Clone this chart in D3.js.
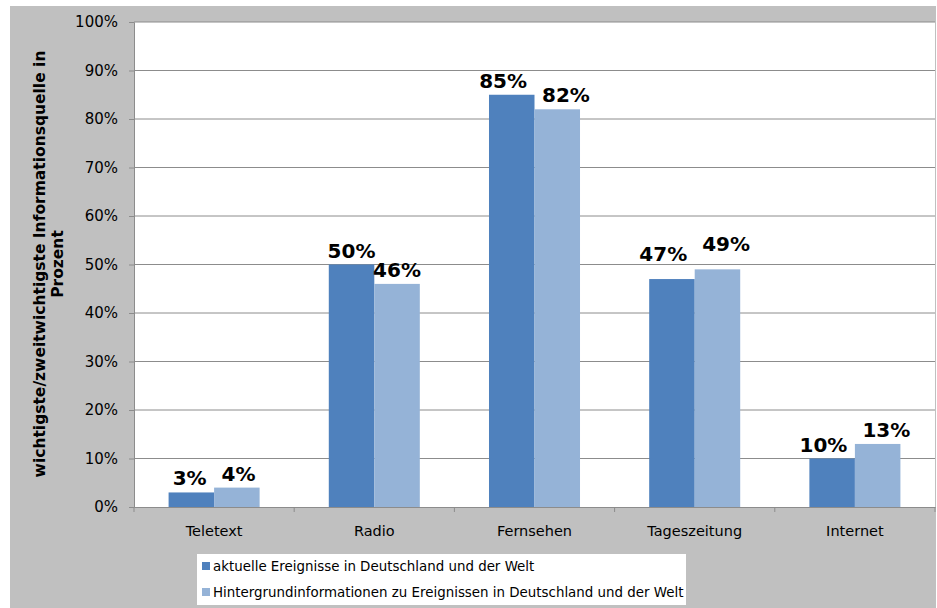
<!DOCTYPE html>
<html>
<head>
<meta charset="utf-8">
<script src="https://cdn.jsdelivr.net/npm/d3@7"></script>
<style>
  body { margin: 0; background: #fff; }
  text { font-family: "DejaVu Sans", Verdana, sans-serif; }
</style>
</head>
<body>
<div id="vis-container"></div>
<script>
let categories = ["Teletext", "Radio", "Fernsehen", "Tageszeitung", "Internet"];
let series_names = [
  "aktuelle Ereignisse in Deutschland und der Welt",
  "Hintergrundinformationen zu Ereignissen in Deutschland und der Welt"
];
let aktuell = [3, 50, 85, 47, 10];
let hintergrund = [4, 46, 82, 49, 13];
let y_ticks = [0, 10, 20, 30, 40, 50, 60, 70, 80, 90, 100];
let colors = ["#4F81BD", "#95B3D7"];

let width = 937, height = 608;
let plot = {left: 134, right: 935, top: 22, bottom: 507};
let font = "'DejaVu Sans', Verdana, sans-serif";

let svg = d3.select("#vis-container").append("svg")
  .attr("width", width)
  .attr("height", height);

// grey chart background
svg.append("rect")
  .attr("x", 10).attr("y", 6)
  .attr("width", 926).attr("height", 602)
  .attr("fill", "#c0c0c0");

// white plot area
svg.append("rect")
  .attr("x", plot.left).attr("y", plot.top)
  .attr("width", plot.right - plot.left).attr("height", plot.bottom - plot.top)
  .attr("fill", "#fff");

let x = d3.scaleBand()
  .domain(categories)
  .range([plot.left, plot.right]);

let x_inner = d3.scaleBand()
  .domain([0, 1])
  .range([0, x.bandwidth()])
  .paddingOuter(0.76)
  .paddingInner(0);

let y = d3.scaleLinear()
  .domain([0, 100])
  .range([plot.bottom, plot.top]);

// gridlines
svg.append("g")
  .selectAll("line")
  .data(y_ticks.filter(d => d > 0))
  .enter().append("line")
    .attr("x1", plot.left).attr("x2", plot.right)
    .attr("y1", d => y(d)).attr("y2", d => y(d))
    .attr("stroke", "#8c8c8c")
    .attr("stroke-width", 1);

// y axis
let y_axis = svg.append("g")
  .attr("transform", "translate(" + plot.left + ",0)")
  .call(d3.axisLeft(y).tickValues(y_ticks).tickSize(5).tickPadding(11)
    .tickFormat(d => d + "%"));
y_axis.select(".domain").attr("stroke", "#8c8c8c");
y_axis.selectAll(".tick line").attr("stroke", "#8c8c8c");
y_axis.selectAll("text")
  .attr("font-size", "15px")
  .attr("fill", "#000")
  .style("font-family", font);

// x axis
let x_axis = svg.append("g")
  .attr("transform", "translate(0," + plot.bottom + ")")
  .call(d3.axisBottom(x).tickSize(0).tickPadding(19));
x_axis.select(".domain").attr("stroke", "#8c8c8c");
x_axis.selectAll("text")
  .attr("font-size", "14.5px")
  .attr("fill", "#000")
  .style("font-family", font);

// category boundary ticks
let boundaries = categories.map(c => x(c)).concat([plot.right]);
svg.append("g")
  .selectAll("line")
  .data(boundaries)
  .enter().append("line")
    .attr("x1", d => d).attr("x2", d => d)
    .attr("y1", plot.bottom).attr("y2", plot.bottom + 5)
    .attr("stroke", "#8c8c8c");

// bars
let series = [aktuell, hintergrund];
series.forEach(function(values, s) {
  svg.append("g")
    .selectAll("rect")
    .data(values)
    .enter().append("rect")
      .attr("x", (d, i) => x(categories[i]) + x_inner(s))
      .attr("y", d => y(d))
      .attr("width", x_inner.bandwidth())
      .attr("height", d => y(0) - y(d))
      .attr("fill", colors[s]);
});

// value labels (Tageszeitung labels sit higher in the original)
function label_gap(i) { return categories[i] == "Tageszeitung" ? 18 : 7; }
let label_size = 20, min_gap = 15;

categories.forEach(function(c, i) {
  let g = svg.append("g");
  let labels = series.map(function(values, s) {
    return g.append("text")
      .attr("x", x(c) + x_inner(s) + x_inner.bandwidth() / 2)
      .attr("y", y(values[i]) - label_gap(i))
      .attr("text-anchor", "middle")
      .attr("font-size", label_size + "px")
      .attr("font-weight", "bold")
      .text(values[i] + "%");
  });
  // push the two labels apart when they would collide
  let a = labels[0], b = labels[1];
  let ya = +a.attr("y"), yb = +b.attr("y");
  if (Math.abs(ya - yb) < label_size * 0.8) {
    let wa = a.node().getComputedTextLength(), wb = b.node().getComputedTextLength();
    let xa = +a.attr("x"), xb = +b.attr("x");
    let gap = (xb - wb / 2) - (xa + wa / 2);
    if (gap < min_gap) {
      let shift = (min_gap - gap) / 2;
      a.attr("x", xa - shift);
      b.attr("x", xb + shift);
    }
  }
});

// y axis title
svg.append("text")
  .attr("transform", "translate(45,264) rotate(-90)")
  .attr("text-anchor", "middle")
  .attr("font-size", "15.5px")
  .attr("font-weight", "bold")
  .text("wichtigste/zweitwichtigste Informationsquelle in");
svg.append("text")
  .attr("transform", "translate(63,264) rotate(-90)")
  .attr("text-anchor", "middle")
  .attr("font-size", "15.5px")
  .attr("font-weight", "bold")
  .text("Prozent");

// legend
let legend = svg.append("g");
legend.append("rect")
  .attr("x", 197).attr("y", 554)
  .attr("width", 489).attr("height", 51)
  .attr("fill", "#fff");

let item = legend.selectAll("g.legend")
  .data(series_names)
  .enter().append("g")
  .attr("class", "legend");

item.append("rect")
  .attr("x", 202)
  .attr("y", (d, i) => 562 + i * 26)
  .attr("width", 8).attr("height", 8)
  .attr("fill", (d, i) => colors[i]);

item.append("text")
  .attr("x", 213)
  .attr("y", (d, i) => 571 + i * 26)
  .attr("font-size", "13.4px")
  .text(d => d);
</script>
</body>
</html>
